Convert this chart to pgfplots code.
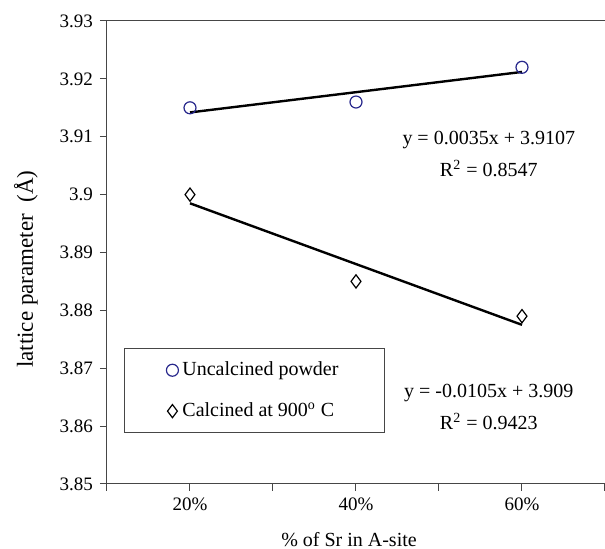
\documentclass[border=0pt]{standalone}
\usepackage{fontspec}
\setmainfont{Liberation Serif}
\usepackage{pgfplots}
\pgfplotsset{compat=1.18}
\usetikzlibrary{calc}
\definecolor{circblue}{RGB}{40,40,140}
\definecolor{axgray}{RGB}{70,70,70}
\begin{document}
\begin{tikzpicture}
\begin{axis}[
  scale only axis, width=249pt, height=231.5pt,
  xmin=0.5, xmax=3.5, ymin=3.85, ymax=3.93,
  axis x line*=box, axis y line*=left,
  axis line style={axgray, line width=0.5pt},
  xtick={1,2,3}, xticklabels={20\%,40\%,60\%},
  minor xtick={0.5,1.5,2.5,3.5},
  ytick={3.85,3.86,3.87,3.88,3.89,3.9,3.91,3.92,3.93},
  yticklabels={3.85,3.86,3.87,3.88,3.89,3.9,3.91,3.92,3.93},
  xtick pos=bottom, ytick pos=left,
  tick align=outside, major tick length=3.5pt, minor tick length=3.5pt,
  tick style={axgray, line width=0.5pt},
  ticklabel style={font=\fontsize{9.5}{11}\selectfont},
  xlabel={\% of Sr in A-site},
  xlabel style={at={(axis description cs:0.486,-0.121)}, anchor=center, font=\fontsize{10}{12}\selectfont},
  ylabel={lattice parameter\ \ (Å)},
  ylabel style={at={(axis description cs:-0.163,0.464)}, anchor=center, rotate=0, font=\fontsize{11.5}{13}\selectfont},
  legend style={at={(axis description cs:0.034,0.110)}, anchor=south west,
    draw=axgray, line width=0.5pt, inner xsep=21pt, inner ysep=4.5pt,
    font=\fontsize{10}{12}\selectfont, row sep=8pt},
  legend cell align=left,
  clip=false,
]
\coordinate (sw) at (rel axis cs:0,0);
\coordinate (ne) at (rel axis cs:1,1);
\addplot[black, line width=1.2pt, forget plot] coordinates {(1,3.9142) (3,3.9212)};
\addplot[black, line width=1.2pt, forget plot] coordinates {(1,3.8985) (3,3.8775)};
\addplot[only marks, mark=o, mark size=3pt, circblue, mark options={line width=0.6pt, fill=white}] coordinates {(1,3.915) (2,3.916) (3,3.922)};
\addlegendentry{Uncalcined powder}
\addplot[only marks, mark=diamond*, mark size=3.3pt, black, mark options={line width=0.6pt, fill=white}] coordinates {(1,3.900) (2,3.885) (3,3.879)};
\addlegendentry{Calcined at 900\textsuperscript{o} C}
\node[align=center, font=\fontsize{10}{16}\selectfont] at (axis cs:2.80,3.9070) {y = 0.0035x + 3.9107\\R\textsuperscript{2} = 0.8547};
\node[align=center, font=\fontsize{10}{16}\selectfont] at (axis cs:2.80,3.8633) {y = -0.0105x + 3.909\\R\textsuperscript{2} = 0.9423};
\end{axis}
\pgfresetboundingbox
\path ($(sw)+(-53.5pt,-32.5pt)$) rectangle ($(ne)+(0,10.5pt)$);
\end{tikzpicture}
\end{document}
